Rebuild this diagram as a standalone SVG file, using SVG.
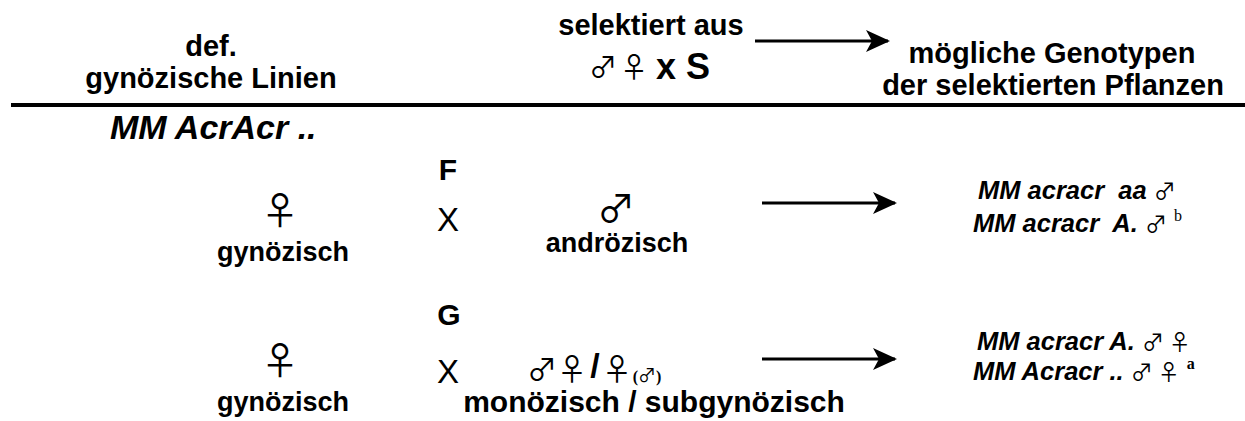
<svg xmlns="http://www.w3.org/2000/svg" width="1245" height="421" viewBox="0 0 1245 421">
  <style>
    text { font-family: "Liberation Sans", Arial, sans-serif; fill: #000; }
    .lbl { font-size: 27px; font-weight: bold; text-anchor: middle; }
    .hd { font-size: 29px; }
    .geno { font-size: 25.5px; font-weight: bold; font-style: italic; white-space: pre; }
    .big { font-size: 34px; font-weight: bold; font-style: italic; }
    .cross { font-size: 33px; text-anchor: middle; }
    .sym { font-family: "Noto Sans CJK JP", "DejaVu Sans", sans-serif; font-weight: normal; font-style: normal; }
    .sex { font-size: 38px; text-anchor: middle; }
    .mid { text-anchor: middle; }
    .sup { font-family: "Liberation Serif", "DejaVu Serif", serif; font-style: normal; font-size: 16px; }
    .conn { stroke: #000; stroke-width: 3; fill: none; }
  </style>
  <defs>
    <marker id="head" markerUnits="userSpaceOnUse" viewBox="0 0 24 24" refX="22" refY="12" markerWidth="24" markerHeight="24" orient="auto">
      <path d="M0,1 L24,12 L0,23 L6,12 Z" fill="#000"/>
    </marker>
  </defs>

  <!-- column headings -->
  <g id="head-lines">
    <text class="lbl hd" x="211" y="56">def.</text>
    <text class="lbl hd" x="211" y="88">gynözische Linien</text>
  </g>
  <g id="head-selection">
    <text class="lbl hd" x="651" y="35">selektiert aus</text>
    <text class="sym mid" x="603" y="78" font-size="28">♂</text>
    <text class="sym mid" x="634" y="78" font-size="28">♀</text>
    <text x="656" y="79" font-size="36" font-weight="bold">x S</text>
  </g>
  <g id="head-genotypes">
    <text class="lbl hd" x="1052" y="63">mögliche Genotypen</text>
    <text class="lbl hd" x="1053" y="95">der selektierten Pflanzen</text>
  </g>
  <line x1="11" y1="105" x2="1245" y2="105" stroke="#000" stroke-width="4"/>

  <g id="start-genotype">
    <text class="big" x="110" y="139">MM AcrAcr ..</text>
  </g>

  <!-- cross F -->
  <g id="cross-f">
    <text class="lbl" x="448" y="180" style="font-size:30px">F</text>
    <text class="sym sex" x="280" y="224">♀</text>
    <text class="lbl" x="283" y="261">gynözisch</text>
    <text class="cross" x="448" y="231">X</text>
    <text class="sym sex" x="616" y="222">♂</text>
    <text class="lbl" x="617" y="252">andrözisch</text>
  </g>
  <g id="result-f">
    <text class="geno" x="978" y="199">MM acracr  aa <tspan class="sym" font-size="22" font-weight="bold">♂</tspan></text>
    <text class="geno" x="973" y="232">MM acracr  A. <tspan class="sym" font-size="22">♂</tspan> <tspan class="sup" font-weight="normal" dy="-11">b</tspan></text>
  </g>

  <!-- cross G -->
  <g id="cross-g">
    <text class="lbl" x="449" y="325" style="font-size:30px">G</text>
    <text class="sym sex" x="280" y="374">♀</text>
    <text class="lbl" x="283" y="411">gynözisch</text>
    <text class="cross" x="448" y="383">X</text>
    <text class="sym mid" x="542" y="380" font-size="30">♂</text>
    <text class="sym mid" x="572" y="380" font-size="30">♀</text>
    <text class="mid" x="595" y="377" font-size="34" font-weight="bold">/</text>
    <text class="sym mid" x="617" y="380" font-size="30">♀</text>
    <text class="sup mid" x="647" y="382" font-weight="bold" font-size="23">(<tspan class="sym" font-size="18">♂</tspan>)</text>
    <text class="lbl" x="654" y="412" style="font-size:30px">monözisch / subgynözisch</text>
  </g>
  <g id="result-g">
    <text class="geno" x="977" y="350">MM acracr A. <tspan class="sym" font-size="22">♂ ♀</tspan></text>
    <text class="geno" x="973" y="380">MM Acracr .. <tspan class="sym" font-size="22">♂ ♀</tspan> <tspan class="sup" font-weight="bold" dy="-11">a</tspan></text>
  </g>

  <!-- connectors -->
  <g id="connectors">
    <line class="conn" x1="755" y1="41" x2="888" y2="41" marker-end="url(#head)"/>
    <line class="conn" x1="762" y1="203" x2="895" y2="203" marker-end="url(#head)"/>
    <line class="conn" x1="762" y1="359" x2="895" y2="359" marker-end="url(#head)"/>
  </g>
</svg>
